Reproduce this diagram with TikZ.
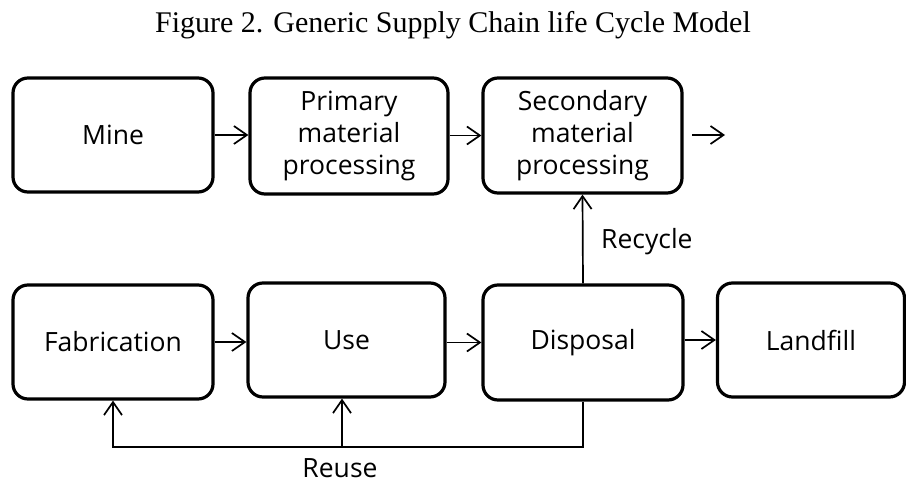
\documentclass[tikz,border=0pt]{standalone}
\usepackage{fontspec}
\setmainfont{Liberation Serif}
\newfontfamily\boxfont{Open Sans}
\usetikzlibrary{arrows.meta}
\begin{document}
\begin{tikzpicture}[x=1pt,y=-1pt,
  box/.style={draw, line width=3.2pt, rounded corners=15pt, align=center,
    inner sep=0pt, font=\boxfont\fontsize{26.5}{32}\selectfont},
  arr/.style={line width=1.7pt, -{Straight Barb[length=13pt,width=18pt,line width=1.7pt]}},
  lbl/.style={font=\boxfont\fontsize{26.5}{32}\selectfont, inner sep=0pt}]
\useasboundingbox (0,0) rectangle (906,484);
\node[font=\fontsize{30}{34}\selectfont, inner sep=0pt, anchor=base] (title) at (453,33) {Figure 2. Generic Supply Chain life Cycle Model};
\node[box, minimum width=200pt, minimum height=114pt] (mine) at (113,135) {Mine};
\node[box, minimum width=198pt, minimum height=116pt] (prim) at (349,136) {Primary\\material\\processing};
\node[box, minimum width=199pt, minimum height=115pt] (sec) at (582.5,135.5) {Secondary\\material\\processing};
\node[box, minimum width=200pt, minimum height=114pt] (fab) at (113,342) {Fabrication};
\node[box, minimum width=197pt, minimum height=114pt] (use) at (346.5,340) {Use};
\node[box, minimum width=200pt, minimum height=115pt] (disp) at (583,342.5) {Disposal};
\node[box, minimum width=187pt, minimum height=114pt] (land) at (811,340) {Landfill};
\coordinate (os) at (692,135);
\coordinate (oe) at (725,135);
\coordinate (rl) at (0,447);
\coordinate (ru) at (342,447);
\draw[arr] (mine.east) -- (mine.east -| prim.west);
\draw[arr] (prim.east |- sec.west) -- (sec.west);
\draw[arr] (os) -- (oe);
\draw[arr] (fab.east) -- (fab.east -| use.west);
\draw[arr] (use.east |- disp.west) -- (disp.west);
\draw[arr] (disp.east |- land.west) -- (land.west);
\draw[arr] (disp.north) -- (sec.south);
\draw[arr] (disp.south) |- (fab.south |- rl) -- (fab.south);
\draw[arr] (ru) -- (ru |- use.south);
\node[lbl, anchor=base west] (rec) at (601,248) {Recycle};
\node[lbl, anchor=base] (reu) at (340,477) {Reuse};
\end{tikzpicture}
\end{document}
